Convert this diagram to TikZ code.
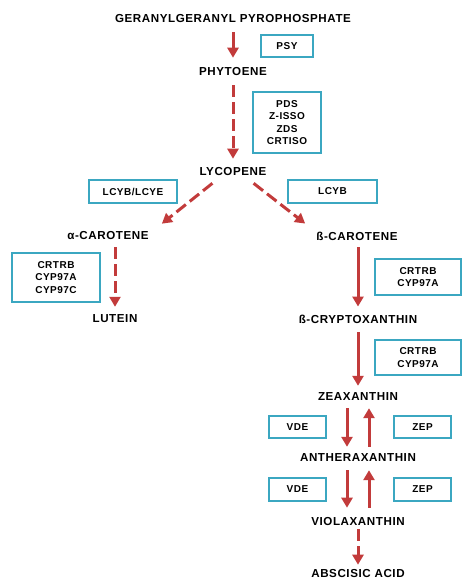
\documentclass[tikz,border=0pt]{standalone}
\usepackage{fontspec}
\setmainfont{Liberation Sans}[LetterSpace=5]
\usetikzlibrary{arrows.meta}
\definecolor{arrred}{HTML}{C23B3B}
\definecolor{boxblue}{HTML}{3BA7C1}
\tikzset{
  met/.style={font=\bfseries\fontsize{11.6}{12}\selectfont, inner sep=0pt, text=black},
  enz/.style={draw=boxblue, line width=2.4pt, font=\bfseries\fontsize{10}{12.6}\selectfont, align=center, inner sep=0pt},
  arr/.style={draw=arrred, line width=3pt, -{Triangle[length=10pt,width=11pt]}},
  darr/.style={arr, dash pattern=on 12pt off 5pt},
}
\begin{document}
\begin{tikzpicture}[x=1pt,y=-1pt]
\useasboundingbox (0,0) rectangle (462,579);
% metabolites
\node[met] (ggpp) at (233,19) {GERANYLGERANYL PYROPHOSPHATE};
\node[met] (phyt) at (233,72) {PHYTOENE};
\node[met] (lyc) at (233,172) {LYCOPENE};
\node[met] (acar) at (108,236) {α-CAROTENE};
\node[met] (bcar) at (357,236) {ß-CAROTENE};
\node[met] (lut) at (115,319) {LUTEIN};
\node[met] (bcry) at (358,319) {ß-CRYPTOXANTHIN};
\node[met] (zea) at (358,397) {ZEAXANTHIN};
\node[met] (anth) at (358,458) {ANTHERAXANTHIN};
\node[met] (viol) at (358,521) {VIOLAXANTHIN};
\node[met] (aba) at (358,573) {ABSCISIC ACID};
% enzymes
\node[enz, minimum width=52pt, minimum height=22pt] (psy) at (287,46) {PSY};
\node[enz, minimum width=68pt, minimum height=61pt] (pds) at (287,122.5) {PDS\\Z-ISSO\\ZDS\\CRTISO};
\node[enz, minimum width=88pt, minimum height=23pt] (lcyble) at (133,191.5) {LCYB/LCYE};
\node[enz, minimum width=89pt, minimum height=23pt] (lcyb) at (332.5,191.5) {LCYB};
\node[enz, minimum width=88pt, minimum height=49pt] (crtc) at (56,277.5) {CRTRB\\CYP97A\\CYP97C};
\node[enz, minimum width=86pt, minimum height=36pt] (crta) at (418,277) {CRTRB\\CYP97A};
\node[enz, minimum width=86pt, minimum height=35pt] (crtb) at (418,357.5) {CRTRB\\CYP97A};
\node[enz, minimum width=57pt, minimum height=22pt] (vde1) at (297.5,427) {VDE};
\node[enz, minimum width=57pt, minimum height=22pt] (zep1) at (422.5,427) {ZEP};
\node[enz, minimum width=57pt, minimum height=23pt] (vde2) at (297.5,489.5) {VDE};
\node[enz, minimum width=57pt, minimum height=23pt] (zep2) at (422.5,489.5) {ZEP};
% arrows
\draw[arr] ([yshift=-9pt]ggpp.south) -- ([yshift=10pt]phyt.north);
\draw[darr] ([yshift=-9pt]phyt.south) -- ([yshift=9pt]lyc.north);
\draw[darr] ([xshift=13pt,yshift=-7pt]lyc.south west) -- ([xshift=13pt,yshift=8pt]acar.north east);
\draw[darr] ([xshift=-13pt,yshift=-7pt]lyc.south east) -- ([xshift=-11pt,yshift=8pt]bcar.north west);
\draw[darr] ([xshift=7pt,yshift=-7pt]acar.south) -- ([yshift=8pt]lut.north);
\draw[arr] ([xshift=1pt,yshift=-7pt]bcar.south) -- ([yshift=8pt]bcry.north);
\draw[arr] ([yshift=-9pt]bcry.south) -- ([yshift=7pt]zea.north);
\draw[arr] ([xshift=-11pt,yshift=-7pt]zea.south) -- ([xshift=-11pt,yshift=7pt]anth.north);
\draw[arr] ([xshift=11pt,yshift=7pt]anth.north) -- ([xshift=11pt,yshift=-7pt]zea.south);
\draw[arr] ([xshift=-11pt,yshift=-8pt]anth.south) -- ([xshift=-11pt,yshift=9pt]viol.north);
\draw[arr] ([xshift=11pt,yshift=9pt]viol.north) -- ([xshift=11pt,yshift=-8pt]anth.south);
\draw[darr] ([yshift=-4pt]viol.south) -- ([yshift=4pt]aba.north);
\end{tikzpicture}
\end{document}
